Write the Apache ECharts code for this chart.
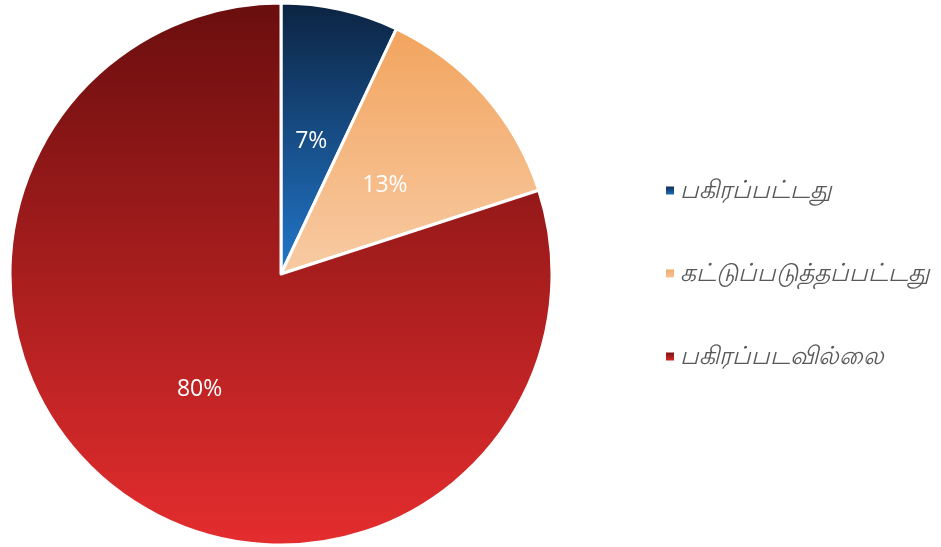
<!DOCTYPE html>
<html>
<head>
<meta charset="utf-8">
<script src="https://cdn.jsdelivr.net/npm/echarts@6/dist/echarts.min.js"></script>
<style>
    html, body { margin: 0; padding: 0; background: #fff; }
    #pieDiv { width: 941px; height: 547px; }
</style>
</head>
<body>
<div id="pieDiv"></div>
<script>
var categories = ['பகிரப்பட்டது', 'கட்டுப்படுத்தப்பட்டது', 'பகிரப்படவில்லை'];
var values = [7, 13, 80];
// top / bottom colour of each slice gradient
var topColors = ['#0c2341', '#f2a45e', '#6a0e0e'];
var bottomColors = ['#2278cc', '#f8cba4', '#e52d2e'];

function grad(i) {
    return new echarts.graphic.LinearGradient(0, 0, 0, 1, [
        { offset: 0, color: topColors[i] },
        { offset: 1, color: bottomColors[i] }
    ]);
}

var pieData = categories.map(function (name, i) {
    return { name: name, value: values[i], itemStyle: { color: grad(i) } };
});

var option = {
    animation: false,
    legend: {
        orient: 'vertical',
        left: 659,
        top: 173,
        itemWidth: 10,
        itemHeight: 10,
        itemGap: 58,
        icon: 'rect',
        textStyle: {
            fontSize: 25,
            color: '#595959',
            fontStyle: 'italic',
            fontFamily: 'Noto Sans, sans-serif'
        },
        data: categories
    },
    series: [
        {
            type: 'pie',
            center: [281, 274],
            radius: 271,
            startAngle: 90,
            clockwise: true,
            itemStyle: { borderColor: '#fff', borderWidth: 3 },
            label: {
                position: 'inside',
                color: '#fff',
                fontSize: 23,
                offset: [0, 3],
                fontFamily: 'Open Sans, sans-serif',
                formatter: '{c}%'
            },
            labelLine: { show: false },
            emphasis: { disabled: true },
            data: pieData
        }
    ]
};

var chart = echarts.init(document.getElementById('pieDiv'));
chart.setOption(option);
</script>
</body>
</html>
